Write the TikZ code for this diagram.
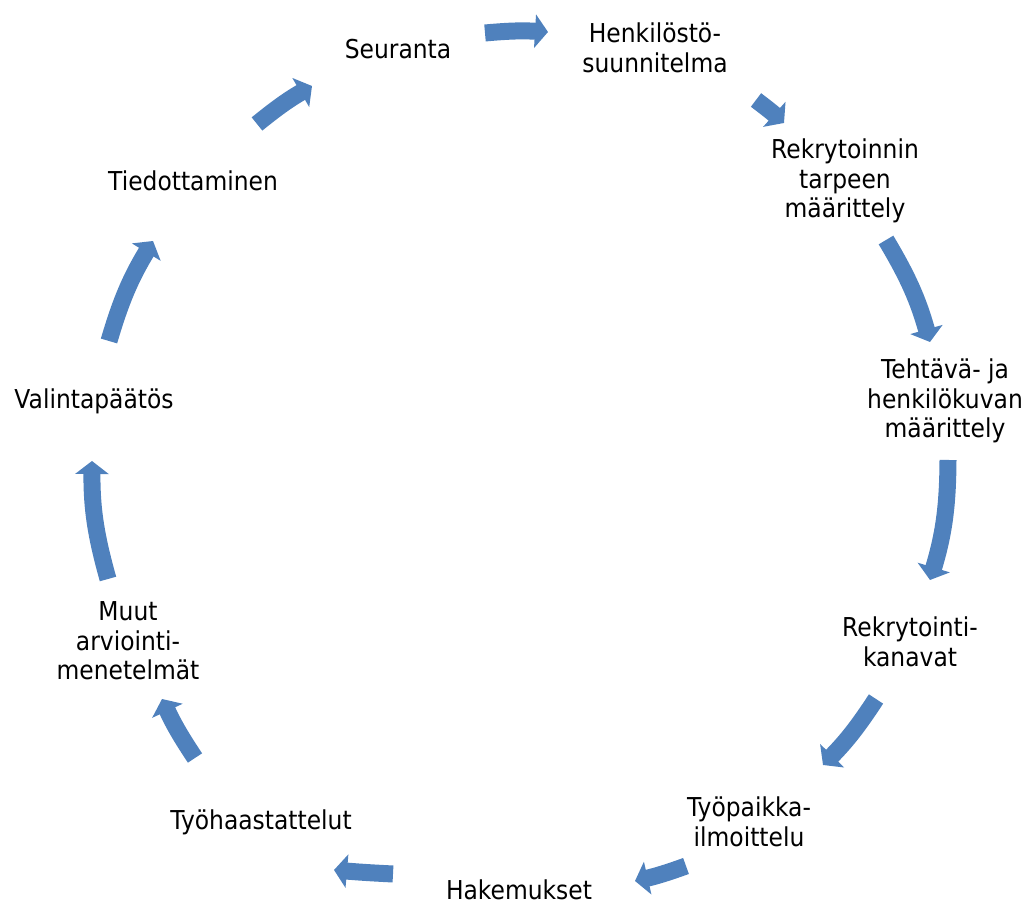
\documentclass[tikz,border=0pt]{standalone}
\usepackage{fontspec}
\setmainfont{DejaVu Sans}[FakeStretch=0.9]
\usetikzlibrary{arrows.meta}
\definecolor{arrowblue}{RGB}{79,129,189}
\tikzset{
  lbl/.style={align=center, inner sep=0pt, font=\fontsize{26}{29.5}\selectfont},
  flow/.style={draw=arrowblue, line width=17pt, -{Triangle[length=13pt,width=33pt]}}
}
\begin{document}
\begin{tikzpicture}[x=1pt,y=1pt]
\useasboundingbox (0,0) rectangle (1026,904);

% process steps around the cycle
\node[lbl] (seur) at (398,855) {Seuranta};
\node[lbl] (henk) at (655,856) {Henkilöstö-\\suunnitelma};
\node[lbl] (tarve) at (845,723) {Rekrytoinnin\\tarpeen\\määrittely};
\node[lbl] (kuva) at (945,503) {Tehtävä- ja\\henkilökuvan\\määrittely};
\node[lbl] (kana) at (910,262) {Rekrytointi-\\kanavat};
\node[lbl] (ilmo) at (749,82) {Työpaikka-\\ilmoittelu};
\node[lbl] (hake) at (519,14.5) {Hakemukset};
\node[lbl] (haas) at (261,82) {Työhaastattelut};
\node[lbl] (muut) at (128,263) {Muut\\arviointi-\\menetelmät};
\node[lbl] (vali) at (94,503) {Valintapäätös};
\node[lbl] (tied) at (193,723) {Tiedottaminen};

% tail and tip of each block arrow
\coordinate (a1s) at (485,871);  \coordinate (a1e) at (548,872);
\coordinate (a2s) at (756,804);  \coordinate (a2e) at (784,781);
\coordinate (a3s) at (886,664);  \coordinate (a3e) at (930,562);
\coordinate (a4s) at (948,444);  \coordinate (a4e) at (930,324);
\coordinate (a5s) at (876,205);  \coordinate (a5e) at (823,139);
\coordinate (a6s) at (686,38);   \coordinate (a6e) at (635,23);
\coordinate (a7s) at (393,30);   \coordinate (a7e) at (334,34);
\coordinate (a8s) at (195,146);  \coordinate (a8e) at (162,205);
\coordinate (a9s) at (108,325);  \coordinate (a9e) at (92,443);
\coordinate (a10s) at (109,563); \coordinate (a10e) at (153,663);
\coordinate (a11s) at (257,780); \coordinate (a11e) at (312,818);

% curved block arrows, clockwise
\draw[flow] (a1s) to[bend left=4.3] (a1e);
\draw[flow] (a2s) to[bend left=2.4] (a2e);
\draw[flow] (a3s) to[bend left=7.5] (a3e);
\draw[flow] (a4s) to[bend left=8.2] (a4e);
\draw[flow] (a5s) to[bend left=5.7] (a5e);
\draw[flow] (a6s) to[bend left=3.5] (a6e);
\draw[flow] (a7s) to[bend left=1] (a7e);
\draw[flow] (a8s) to[bend left=4.5] (a8e);
\draw[flow] (a9s) to[bend left=8] (a9e);
\draw[flow] (a10s) to[bend left=7.4] (a10e);
\draw[flow] (a11s) to[bend left=4.5] (a11e);
\end{tikzpicture}
\end{document}
